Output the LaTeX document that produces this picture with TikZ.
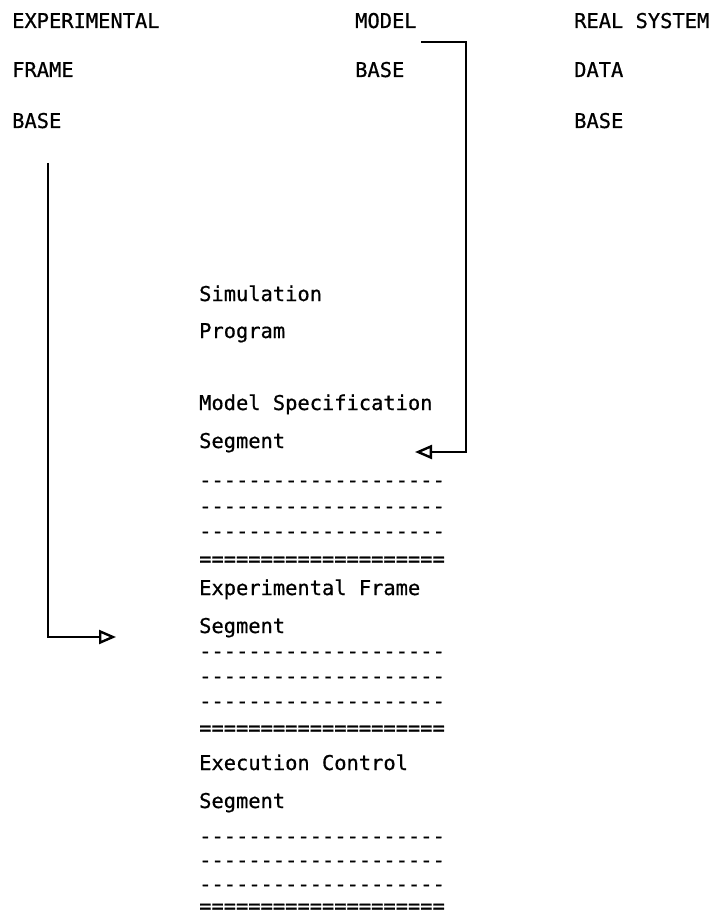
\documentclass[tikz,border=0pt]{standalone}
\usepackage{fontspec}
\setmonofont[FakeBold=0.7]{DejaVu Sans Mono}
\usepackage{tikz}
\usetikzlibrary{arrows.meta}
\tikzstyle{lbl}=[anchor=base west,inner sep=0pt,font=\ttfamily\fontsize{20.4pt}{24pt}\selectfont]
\tikzstyle{feed}=[-{Triangle[open,length=17pt,width=14pt]},line width=2.4pt]

\begin{document}
\begin{tikzpicture}[x=1pt,y=-1pt]
            \useasboundingbox (0,0) rectangle (716,920);
            % the three data bases along the top
            \node[lbl] (exp1) at (12, 28) {EXPERIMENTAL};
            \node[lbl] (exp2) at (12, 77) {FRAME};
            \node[lbl] (exp3) at (12, 128) {BASE};
            \node[lbl] (mod1) at (355, 28) {MODEL};
            \node[lbl] (mod2) at (355, 77) {BASE};
            \node[lbl] (real1) at (574, 28) {REAL SYSTEM};
            \node[lbl] (real2) at (574, 77) {DATA};
            \node[lbl] (real3) at (574, 128) {BASE};
            % the program and its segments
            \node[lbl] (sim1) at (199, 301) {Simulation};
            \node[lbl] (sim2) at (199, 338) {Program};
            \node[lbl] (ms1) at (199, 410) {Model Specification};
            \node[lbl] (ms2) at (199, 448) {Segment};
            \node[lbl] (msd1) at (199, 487) {--------------------};
            \node[lbl] (msd2) at (199, 513) {--------------------};
            \node[lbl] (msd3) at (199, 538) {--------------------};
            \node[lbl] (msd4) at (199, 566) {====================};
            \node[lbl] (ef1) at (199, 595) {Experimental Frame};
            \node[lbl] (ef2) at (199, 633) {Segment};
            \node[lbl] (efd1) at (199, 658) {--------------------};
            \node[lbl] (efd2) at (199, 683) {--------------------};
            \node[lbl] (efd3) at (199, 708) {--------------------};
            \node[lbl] (efd4) at (199, 735) {====================};
            \node[lbl] (ec1) at (199, 770) {Execution Control};
            \node[lbl] (ec2) at (199, 808) {Segment};
            \node[lbl] (ecd1) at (199, 843) {--------------------};
            \node[lbl] (ecd2) at (199, 867) {--------------------};
            \node[lbl] (ecd3) at (199, 891) {--------------------};
            \node[lbl] (ecd4) at (199, 913) {====================};
            % connectors
            \coordinate (mbout) at (421, 42);
            \coordinate (msin) at (415, 452);
            \coordinate (efout) at (48, 163);
            \coordinate (efin) at (116, 637);
            \draw[feed] (mbout) -- ++(45,0) |- (msin);
            \draw[feed] (efout) |- (efin);
        \end{tikzpicture}
\end{document}
